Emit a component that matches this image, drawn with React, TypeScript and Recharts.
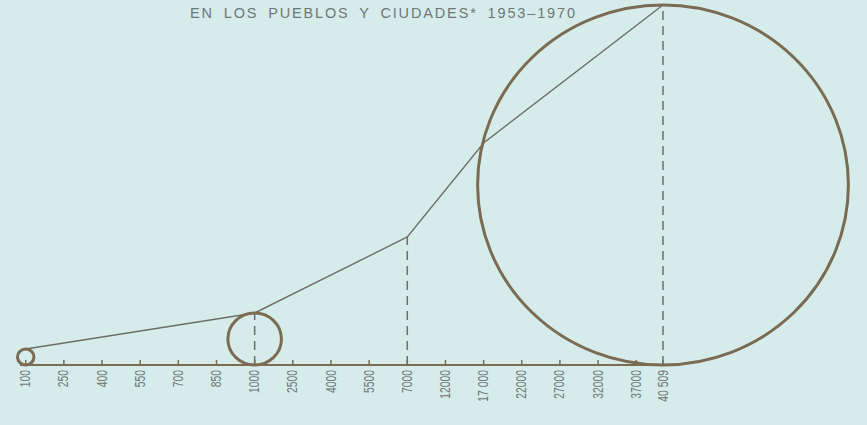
import { ComposedChart, Line, Scatter, XAxis, YAxis, ReferenceLine } from 'recharts';

// settlement sizes shown on the axis (piecewise scale: 150 / 1500 / 5000 steps)
const tickValues = [100, 250, 400, 550, 700, 850, 1000, 2500, 4000, 5500, 7000, 12000, 17000, 22000, 27000, 32000, 37000, 40509];
const tickLabels = ['100', '250', '400', '550', '700', '850', '1000', '2500', '4000', '5500', '7000', '12000', '17 000', '22000', '27000', '32000', '37000', '40 509'];

// growth line
const lineSizes = [100, 1000, 7000, 17000, 40509];
const lineValues = [16, 52, 128, 222, 360];

// circles (diameter = value)
const circleSizes = [100, 1000, 40509];
const circleValues = [16, 52, 360];

// dashed drop lines
const dropSizes = [1000, 7000, 40509];
const dropValues = [52, 128, 360];

const W = 867;
const H = 425;
const TOP = 5;
const BASE_Y = 365;
const BG = '#d6ecea';
const BROWN = '#7a6b52';
const LINE_C = '#6c6f67';
const TEXT_C = '#6e7776';

// map a settlement size onto the axis position
const toPos = (v: number) => {
  if (v <= 1000) return (v - 100) / 150;
  if (v <= 7000) return 6 + (v - 1000) / 1500;
  return 10 + (v - 7000) / 5000;
};

const tickPositions = tickValues.map(toPos);
const lineData = lineSizes.map((s, i) => ({ pos: toPos(s), val: lineValues[i] }));
const circleData = circleSizes.map((s, i) => ({ pos: toPos(s), half: circleValues[i] / 2 }));

const CircleShape = (props: any) => {
  const { cx, cy } = props;
  const r = BASE_Y - cy;
  return <ellipse cx={cx} cy={cy} rx={r * 1.03} ry={r} fill="none" stroke={BROWN} strokeWidth={3} />;
};

const AxisTick = (props: any) => {
  const { x, index } = props;
  return (
    <g>
      <line x1={x} y1={BASE_Y} x2={x} y2={BASE_Y - 5} stroke={BROWN} strokeWidth={1.5} />
      <text
        x={0}
        y={0}
        transform={`translate(${x}, ${BASE_Y + 5}) rotate(-90) scale(0.74, 1)`}
        textAnchor="end"
        dominantBaseline="central"
        fontSize={14}
        fontFamily="'Liberation Sans', Arial, sans-serif"
        fill={TEXT_C}
      >
        {tickLabels[index]}
      </text>
    </g>
  );
};

const App = () => {
  return (
    <div style={{ position: 'absolute', left: 0, top: 0, width: W, height: H, background: BG }}>
      <svg width={W} height={30} style={{ position: 'absolute', left: 0, top: 0 }}>
        <text
          x={190}
          y={17.5}
          textLength={385}
          lengthAdjust="spacing"
          fontSize={14.5}
          wordSpacing={4}
          fontFamily="'Liberation Sans', Arial, sans-serif"
          fill={TEXT_C}
        >
          EN  LOS PUEBLOS Y CIUDADES* 1953–1970
        </text>
      </svg>
      <div style={{ position: 'absolute', left: 0, top: 0 }}>
        <ComposedChart width={W} height={H} margin={{ top: TOP, right: 204, bottom: 10, left: 20 }}>
          <XAxis
            type="number"
            dataKey="pos"
            domain={[-0.15, toPos(40509)]}
            ticks={tickPositions}
            interval={0}
            height={H - BASE_Y - 10}
            axisLine={{ stroke: BROWN, strokeWidth: 2 }}
            tickLine={false}
            tick={<AxisTick />}
          />
          <YAxis type="number" domain={[0, 360]} hide />
          {dropSizes.map((s, i) => (
            <ReferenceLine
              key={s}
              segment={[{ x: toPos(s), y: 0 }, { x: toPos(s), y: dropValues[i] }]}
              stroke={LINE_C}
              strokeWidth={1.5}
              strokeDasharray="9 6"
            />
          ))}
          <Line
            data={lineData}
            dataKey="val"
            type="linear"
            stroke={LINE_C}
            strokeWidth={1.4}
            dot={false}
            activeDot={false}
            isAnimationActive={false}
          />
          <Scatter data={circleData} dataKey="half" shape={<CircleShape />} isAnimationActive={false} />
        </ComposedChart>
      </div>
    </div>
  );
};

export default App;
